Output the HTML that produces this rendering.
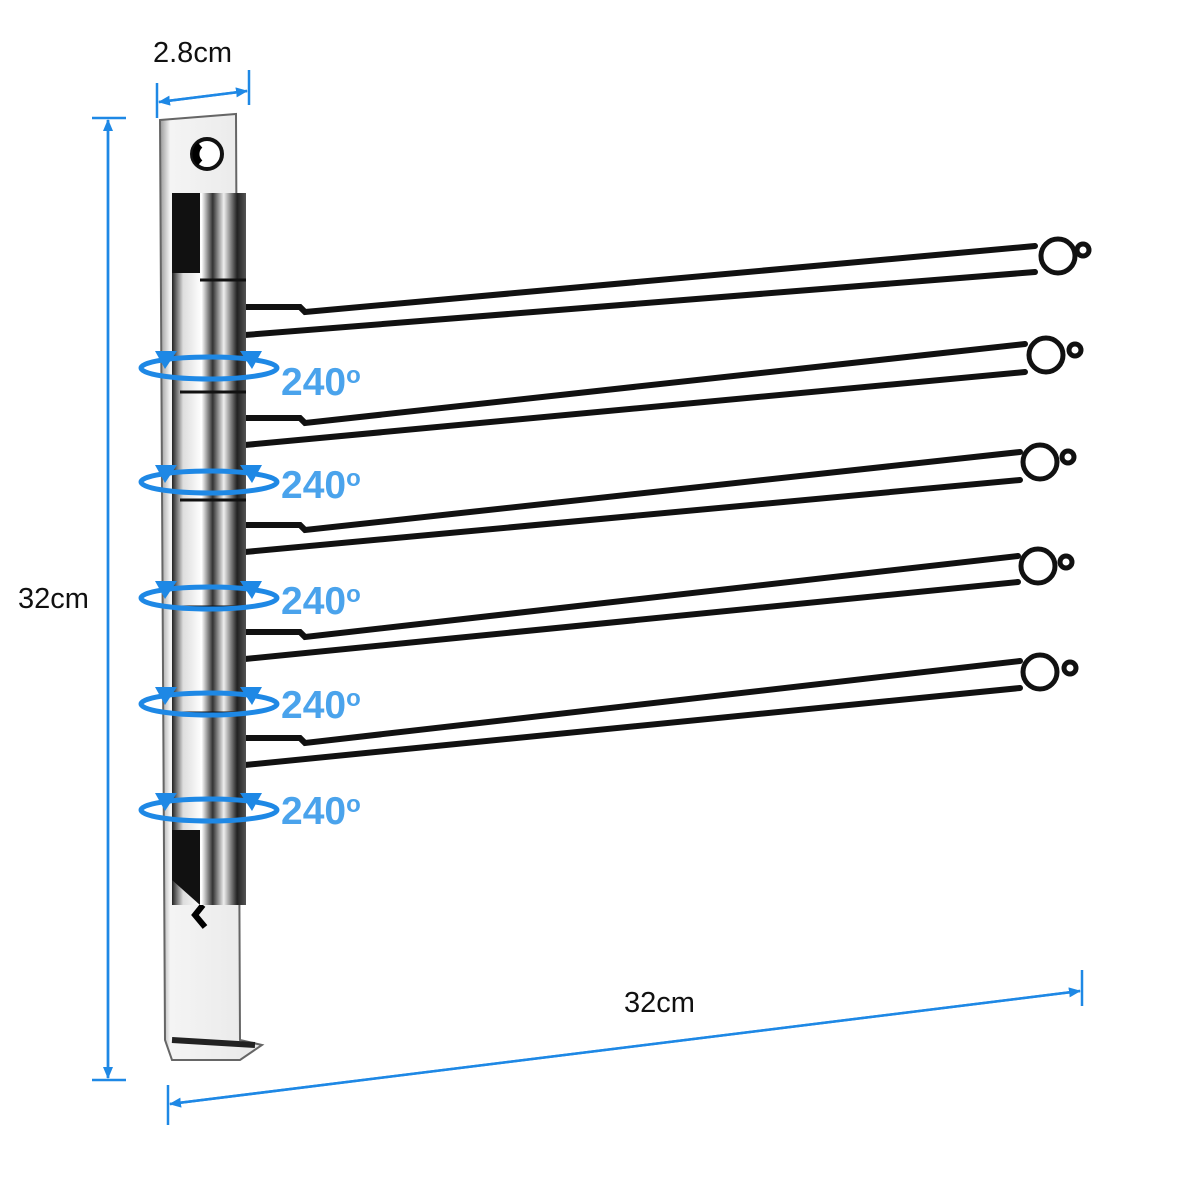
<!DOCTYPE html>
<html><head><meta charset="utf-8"><style>
html,body{margin:0;padding:0;background:#fff}
svg{display:block}
text{font-family:"Liberation Sans",Arial,sans-serif}
</style></head><body>
<svg width="1200" height="1200" viewBox="0 0 1200 1200" xmlns="http://www.w3.org/2000/svg">
<defs>
<marker id="ar" markerWidth="12" markerHeight="10" refX="11" refY="5" orient="auto" markerUnits="userSpaceOnUse"><path d="M0,0 L12,5 L0,10 z" fill="#1e88e5"/></marker>
<linearGradient id="cyl" x1="0" x2="1"><stop offset="0" stop-color="#222"/><stop offset="0.15" stop-color="#ddd"/><stop offset="0.4" stop-color="#fff"/><stop offset="0.55" stop-color="#333"/><stop offset="0.7" stop-color="#eee"/><stop offset="0.88" stop-color="#222"/><stop offset="1" stop-color="#555"/></linearGradient>
<linearGradient id="pl" x1="0" x2="1"><stop offset="0" stop-color="#999"/><stop offset="0.1" stop-color="#f4f4f4"/><stop offset="1" stop-color="#e8e8e8"/></linearGradient>
</defs>

<!-- bars -->
<g stroke="#111" stroke-width="6" fill="none" stroke-linecap="round">
<path d="M245,307 L300,307 L305,312 L1035,246"/><path d="M245,335 L1035,272"/>
<path d="M245,418 L300,418 L305,423 L1025,344"/><path d="M245,445 L1025,372"/>
<path d="M245,525 L300,525 L305,530 L1020,452"/><path d="M245,552 L1020,480"/>
<path d="M245,632 L300,632 L305,637 L1018,556"/><path d="M245,659 L1018,582"/>
<path d="M245,738 L300,738 L305,743 L1020,661"/><path d="M245,765 L1020,688"/>
</g>
<!-- knobs -->
<g fill="#fff" stroke="#111" stroke-width="5">
<circle cx="1058" cy="256" r="17"/><circle cx="1083" cy="250" r="6"/>
<circle cx="1046" cy="355" r="17"/><circle cx="1075" cy="350" r="6"/>
<circle cx="1040" cy="462" r="17"/><circle cx="1068" cy="457" r="6"/>
<circle cx="1038" cy="566" r="17"/><circle cx="1066" cy="562" r="6"/>
<circle cx="1040" cy="672" r="17"/><circle cx="1070" cy="668" r="6"/>
</g>

<!-- plate -->
<path d="M160,120 L236,114 L240,1040 L262,1045 L240,1060 L172,1060 L165,1040 Z" fill="url(#pl)" stroke="#666" stroke-width="2"/>
<circle cx="207" cy="154" r="15" fill="#fff" stroke="#111" stroke-width="4"/>
<path d="M200,145 a12,12 0 0 0 0,18" stroke="#000" stroke-width="7" fill="none"/>
<path d="M203,905 l-8,10 l10,12" stroke="#000" stroke-width="6" fill="none"/>
<path d="M172,1040 L255,1045" stroke="#222" stroke-width="6"/>
<!-- cylinder -->
<rect x="172" y="193" width="74" height="712" fill="url(#cyl)"/>
<rect x="172" y="193" width="28" height="80" fill="#111"/>
<path d="M172,830 L200,830 L200,905 L172,880 Z" fill="#111"/>
<g stroke="#111" stroke-width="3">
<line x1="200" y1="280" x2="246" y2="280"/><line x1="180" y1="392" x2="246" y2="392"/><line x1="180" y1="500" x2="246" y2="500"/><line x1="180" y1="607" x2="246" y2="607"/><line x1="180" y1="713" x2="246" y2="713"/><line x1="180" y1="820" x2="246" y2="820"/>
</g>

<!-- rotation arrows -->
<g stroke="#1e88e5" stroke-width="5" fill="none">
<ellipse cx="209" cy="368" rx="68" ry="11"/>
<ellipse cx="209" cy="482" rx="68" ry="11"/>
<ellipse cx="209" cy="598" rx="68" ry="11"/>
<ellipse cx="209" cy="704" rx="68" ry="11"/>
<ellipse cx="209" cy="810" rx="68" ry="11"/>
</g>
<g fill="#1e88e5">
<path d="M177,351 l-22,0 l10,18z"/><path d="M240,351 l22,0 l-10,18z"/>
<path d="M177,465 l-22,0 l10,18z"/><path d="M240,465 l22,0 l-10,18z"/>
<path d="M177,581 l-22,0 l10,18z"/><path d="M240,581 l22,0 l-10,18z"/>
<path d="M177,687 l-22,0 l10,18z"/><path d="M240,687 l22,0 l-10,18z"/>
<path d="M177,793 l-22,0 l10,18z"/><path d="M240,793 l22,0 l-10,18z"/>
</g>
<g fill="#4aa3ec" font-weight="bold" font-size="39">
<text x="281" y="395">240<tspan font-size="24" dy="-12">o</tspan></text>
<text x="281" y="498">240<tspan font-size="24" dy="-12">o</tspan></text>
<text x="281" y="614">240<tspan font-size="24" dy="-12">o</tspan></text>
<text x="281" y="718">240<tspan font-size="24" dy="-12">o</tspan></text>
<text x="281" y="824">240<tspan font-size="24" dy="-12">o</tspan></text>
</g>

<!-- dimension lines -->
<g stroke="#1e88e5" stroke-width="2.5" fill="none">
<line x1="92" y1="118" x2="126" y2="118"/><line x1="92" y1="1080" x2="126" y2="1080"/>
<line x1="108" y1="1078" x2="108" y2="120" marker-end="url(#ar)"/>
<line x1="108" y1="120" x2="108" y2="1078" marker-end="url(#ar)"/>
<line x1="157" y1="83" x2="157" y2="118"/><line x1="249" y1="70" x2="249" y2="105"/>
<line x1="247" y1="91" x2="159" y2="102" marker-end="url(#ar)"/>
<line x1="159" y1="102" x2="247" y2="91" marker-end="url(#ar)"/>
<line x1="168" y1="1085" x2="168" y2="1125"/><line x1="1082" y1="970" x2="1082" y2="1006"/>
<line x1="1080" y1="991" x2="170" y2="1104" marker-end="url(#ar)"/>
<line x1="170" y1="1104" x2="1080" y2="991" marker-end="url(#ar)"/>
</g>
<g fill="#111" font-size="29">
<text x="153" y="62">2.8cm</text>
<text x="18" y="608">32cm</text>
<text x="624" y="1012">32cm</text>
</g>
</svg>
</body></html>
